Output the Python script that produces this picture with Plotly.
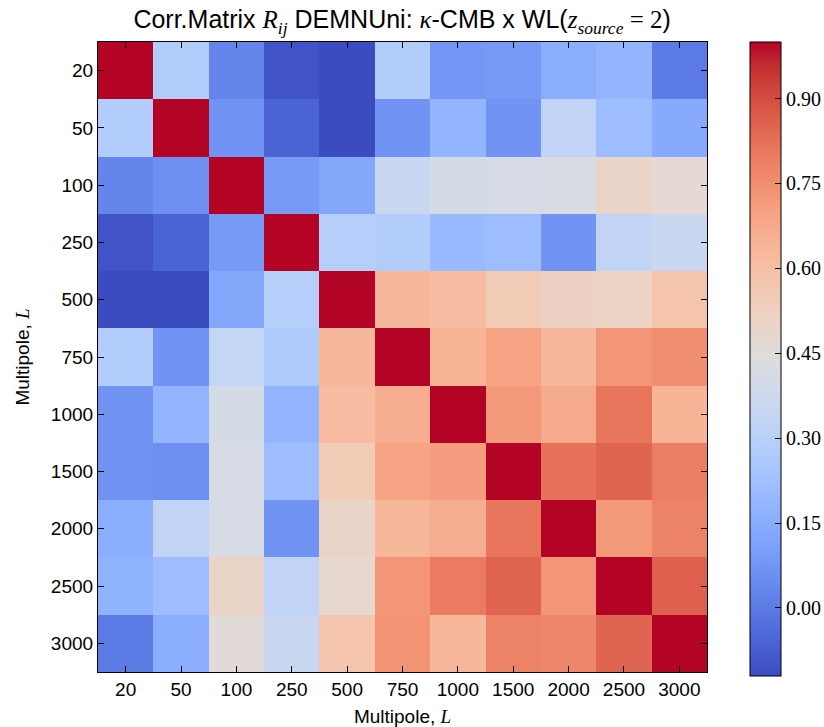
import plotly.graph_objects as go

labels = ["20", "50", "100", "250", "500", "750", "1000", "1500", "2000", "2500", "3000"]

row_20   = [1.00, 0.28, 0.03, -0.10, -0.12, 0.28, 0.08, 0.09, 0.15, 0.18, 0.00]
row_50   = [0.28, 1.00, 0.07, -0.06, -0.12, 0.07, 0.18, 0.07, 0.33, 0.21, 0.14]
row_100  = [0.03, 0.06, 1.00, 0.09, 0.13, 0.36, 0.40, 0.41, 0.42, 0.50, 0.47]
row_250  = [-0.10, -0.06, 0.09, 1.00, 0.29, 0.28, 0.20, 0.21, 0.07, 0.33, 0.36]
row_500  = [-0.12, -0.12, 0.13, 0.29, 1.00, 0.63, 0.61, 0.55, 0.52, 0.51, 0.58]
row_750  = [0.28, 0.07, 0.34, 0.27, 0.63, 1.00, 0.64, 0.69, 0.63, 0.73, 0.75]
row_1000 = [0.07, 0.18, 0.40, 0.18, 0.61, 0.66, 1.00, 0.72, 0.67, 0.81, 0.64]
row_1500 = [0.07, 0.06, 0.41, 0.21, 0.55, 0.69, 0.71, 1.00, 0.82, 0.85, 0.79]
row_2000 = [0.15, 0.33, 0.41, 0.07, 0.50, 0.63, 0.66, 0.81, 1.00, 0.72, 0.78]
row_2500 = [0.17, 0.21, 0.50, 0.33, 0.48, 0.73, 0.80, 0.85, 0.73, 1.00, 0.86]
row_3000 = [0.00, 0.15, 0.46, 0.36, 0.58, 0.74, 0.63, 0.78, 0.77, 0.85, 1.00]

z = [row_20, row_50, row_100, row_250, row_500, row_750, row_1000,
     row_1500, row_2000, row_2500, row_3000]

colorbar_ticks = [0.0, 0.15, 0.30, 0.45, 0.60, 0.75, 0.90]

coolwarm_rgb = [
    (0.2298057, 0.298717966, 0.753683153), (0.26623388, 0.353094838, 0.801466763),
    (0.30386891, 0.406535296, 0.84495867), (0.342804478, 0.458757618, 0.883725899),
    (0.38301334, 0.50941904, 0.917387822), (0.424369608, 0.558148092, 0.945619588),
    (0.46666708, 0.604562568, 0.968154911), (0.509635204, 0.648280772, 0.98478814),
    (0.552953156, 0.688929332, 0.995375608), (0.596262162, 0.726149107, 0.999836203),
    (0.639176211, 0.759599947, 0.998151185), (0.681291281, 0.788964712, 0.990363227),
    (0.722193294, 0.813952739, 0.976574709), (0.761464949, 0.834302879, 0.956945269),
    (0.798691636, 0.849786142, 0.931688648), (0.833466556, 0.860207984, 0.901068838),
    (0.865395197, 0.86541021, 0.865395561), (0.897787179, 0.848937047, 0.820880546),
    (0.924127593, 0.827384882, 0.774508472), (0.944468518, 0.800927443, 0.726736146),
    (0.958852946, 0.769767752, 0.678007945), (0.96732803, 0.734132809, 0.628751763),
    (0.969954137, 0.694266682, 0.579375448), (0.966811177, 0.650421156, 0.530263762),
    (0.958003065, 0.602842431, 0.481775914), (0.943660866, 0.551750968, 0.434243684),
    (0.923944917, 0.49730856, 0.387970225), (0.89904617, 0.439559467, 0.343229596),
    (0.869186849, 0.378313092, 0.300267182), (0.834620542, 0.312874446, 0.259301199),
    (0.795631745, 0.24128379, 0.220525627), (0.752534934, 0.157246067, 0.184115123),
    (0.705673158, 0.01555616, 0.150232812),
]
n = len(coolwarm_rgb)
colorscale = [[i / (n - 1), "rgb(%d,%d,%d)" % tuple(round(c * 255) for c in rgb)]
              for i, rgb in enumerate(coolwarm_rgb)]

SANS = "Liberation Sans, Arial, sans-serif"
SERIF = "Liberation Serif"

fig = go.Figure(go.Heatmap(
    z=z, x=labels, y=labels,
    colorscale=colorscale, zmin=-0.12, zmax=1.0,
    xgap=0, ygap=0,
    colorbar=dict(
        tickvals=colorbar_ticks,
        ticktext=["%.2f" % v for v in colorbar_ticks],
        ticks="inside", ticklen=6, tickcolor="black",
        thickness=31, thicknessmode="pixels",
        len=634, lenmode="pixels",
        x=1.0705, xanchor="left", y=0.497, yanchor="middle",
        outlinecolor="black", outlinewidth=1,
        tickfont=dict(family=SERIF, size=20, color="black"),
        xpad=0, ypad=0,
    ),
))

axis_common = dict(
    type="category", showline=True, linecolor="black", linewidth=1.2,
    mirror="allticks", ticks="inside", ticklen=6, tickcolor="black",
    showgrid=False, zeroline=False,
    tickfont=dict(family=SANS, size=19, color="black"),
)

title_text = ("Corr.Matrix <span style='font-family:Liberation Serif'><i>R</i><sub><i>ij</i></sub></span>"
              " DEMNUni: <span style='font-family:Liberation Serif'><i>κ</i></span>-CMB x WL("
              "<span style='font-family:Liberation Serif'><i>z</i><sub><i>source</i></sub> = 2</span>)")

fig.update_layout(
    width=824, height=727,
    margin=dict(l=98, r=117, t=42, b=55, autoexpand=False),
    paper_bgcolor="white", plot_bgcolor="white",
    title=dict(
        text=title_text,
        x=0.488, xanchor="center", y=0.973, yanchor="middle",
        font=dict(family=SANS, size=25, color="black"),
    ),
    xaxis=dict(**axis_common,
               title=dict(text="Multipole, <span style='font-family:Liberation Serif'><i>L</i></span>", standoff=10,
                          font=dict(family=SANS, size=19, color="black"))),
    yaxis=dict(**axis_common, autorange="reversed",
               title=dict(text="Multipole, <span style='font-family:Liberation Serif'><i>L</i></span>", standoff=16,
                          font=dict(family=SANS, size=19, color="black"))),
)

fig.write_html("out.html")
